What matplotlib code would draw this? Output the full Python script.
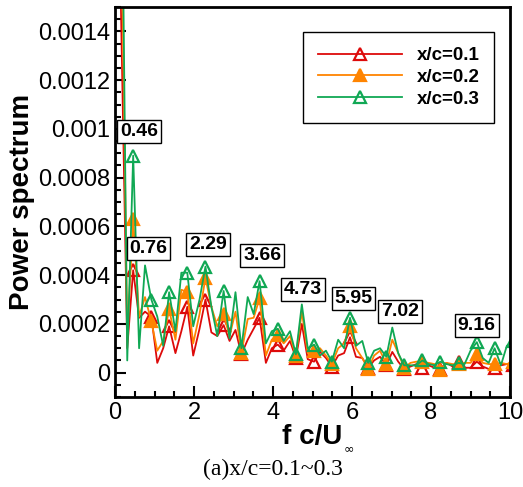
import numpy as np
import matplotlib
matplotlib.use('Agg')
import matplotlib.pyplot as plt
from matplotlib.ticker import MultipleLocator, FuncFormatter

plt.rcParams['font.family'] = ['Liberation Sans', 'DejaVu Sans']

# frequency bins f c/U_inf
freq = [0.15, 0.31, 0.46, 0.61, 0.76, 0.92, 1.07, 1.22, 1.37, 1.53,
        1.68, 1.83, 1.98, 2.14, 2.29, 2.44, 2.59, 2.75, 2.90, 3.05,
        3.20, 3.36, 3.51, 3.66, 3.82, 3.97, 4.12, 4.27, 4.43, 4.58,
        4.73, 4.88, 5.04, 5.19, 5.34, 5.49, 5.65, 5.80, 5.95, 6.10,
        6.26, 6.41, 6.56, 6.71, 6.87, 7.02, 7.17, 7.32, 7.48, 7.63,
        7.78, 7.94, 8.09, 8.24, 8.39, 8.55, 8.70, 8.85, 9.00, 9.16,
        9.31, 9.46, 9.61, 9.77, 9.92, 10.07]

# power spectrum, in units of 1e-4
p_01 = [15, 1.0, 4.2, 2.25, 2.5, 2.3, 0.4, 1.0, 1.9, 0.8,
        1.7, 2.7, 0.7, 1.8, 3.0, 1.65, 1.5, 1.95, 1.3, 1.75,
        0.75, 1.35, 1.8, 2.25, 0.4, 1.0, 1.15, 0.9, 1.3, 0.6,
        2.0, 0.55, 0.45, 0.85, 0.6, 0.25, 0.7, 0.8, 1.45, 0.65,
        0.6, 0.2, 0.5, 0.65, 0.3, 0.85, 0.45, 0.15, 0.25, 0.35,
        0.2, 0.3, 0.2, 0.15, 0.4, 0.25, 0.45, 0.2, 0.2, 0.45,
        0.25, 0.15, 0.2, 0.3, 0.35, 0.3]
p_02 = [20, 1.5, 6.3, 2.3, 3.1, 2.1, 0.9, 1.3, 2.6, 1.35,
        3.4, 3.3, 1.2, 2.4, 3.9, 2.7, 1.9, 2.4, 1.5, 2.5,
        0.8, 2.2, 2.25, 3.05, 0.7, 1.35, 1.55, 1.2, 1.5, 0.7,
        2.5, 0.8, 0.9, 1.0, 0.7, 0.35, 1.0, 1.2, 1.9, 1.0,
        0.6, 0.15, 0.7, 0.9, 0.35, 1.35, 0.8, 0.2, 0.4, 0.45,
        0.45, 0.4, 0.35, 0.1, 0.4, 0.35, 0.35, 0.4, 0.4, 0.75,
        0.4, 0.35, 0.35, 0.4, 0.35, 0.45]
p_03 = [25, 0.5, 8.9, 1.0, 4.4, 3.0, 2.3, 1.1, 3.3, 1.7,
        4.1, 4.1, 1.9, 3.0, 4.35, 2.7, 1.5, 3.35, 1.4, 3.3,
        1.0, 3.1, 2.4, 3.75, 1.2, 1.7, 1.8, 1.3, 1.7, 0.75,
        2.8, 1.0, 1.15, 0.7, 0.9, 0.45, 1.35, 1.0, 2.25, 1.1,
        1.3, 0.4, 0.9, 1.0, 0.65, 1.85, 0.8, 0.3, 0.3, 0.3,
        0.5, 0.35, 0.3, 0.45, 0.35, 0.3, 0.4, 0.35, 0.9, 1.25,
        0.6, 0.4, 1.0, 0.3, 1.1, 1.3]

peak_labels = ['0.46', '0.76', '2.29', '3.66', '4.73', '5.95', '7.02', '9.16']
label_x = [0.61, 0.85, 2.35, 3.73, 4.75, 6.04, 7.22, 9.16]
label_y = [9.9, 5.1, 5.25, 4.8, 3.4, 3.05, 2.5, 1.95]

fig = plt.figure(figsize=(5.23, 4.87), dpi=100)
ax = fig.add_axes([115/523, 1-397/487, 395/523, 390/487])

styles = [
    ('x/c=0.1', p_01, '#dd0a0a', 'none'),
    ('x/c=0.2', p_02, '#ff8400', '#ff8400'),
    ('x/c=0.3', p_03, '#10a854', 'none'),
]
for name, vals, col, face in styles:
    ax.plot(freq, np.array(vals) * 1e-4, color=col, lw=1.3, marker='^',
            markersize=8, markerfacecolor=face, markeredgecolor=col,
            markeredgewidth=1.6, markevery=(2, 3), label=name)

for txt, lx, ly in zip(peak_labels, label_x, label_y):
    ax.text(lx, ly * 1e-4, txt, ha='center', va='center', fontsize=14,
            fontweight='bold',
            bbox=dict(boxstyle='square,pad=0.15', fc='white', ec='black', lw=1))

ax.set_xlim(0, 10)
ax.set_ylim(-0.0001, 0.0015)
ax.xaxis.set_major_locator(MultipleLocator(2))
ax.xaxis.set_minor_locator(MultipleLocator(0.5))
ax.yaxis.set_major_locator(MultipleLocator(0.0002))
ax.yaxis.set_minor_locator(MultipleLocator(0.00005))
ax.yaxis.set_major_formatter(FuncFormatter(lambda v, p: f'{v:g}' if abs(v) > 1e-12 else '0'))
ax.tick_params(which='both', direction='in', labelsize=17, width=1.5,
               top=False, right=False)
ax.tick_params(which='major', length=8)
ax.tick_params(which='minor', length=4)
for s in ax.spines.values():
    s.set_linewidth(2)

ax.set_ylabel('Power spectrum', fontsize=20, fontweight='bold', labelpad=2)
ax.set_xlabel('f c/U', fontsize=20, fontweight='bold', labelpad=0)
fig.text(349/523, 1 - 449/487, '\u221e', fontsize=9, ha='center', va='center',
         family='DejaVu Sans')

leg = ax.legend(loc='upper left', bbox_to_anchor=(303/523, 1 - 32/487),
                bbox_transform=fig.transFigure, borderaxespad=0,
                prop={'weight': 'bold', 'size': 13.5},
                handlelength=4.5, labelspacing=0.25, borderpad=0.8,
                handletextpad=0.75,
                fancybox=False, framealpha=1, edgecolor='black')
leg.get_frame().set_linewidth(1)

fig.text(273/523, 1 - 469/487, '(a)x/c=0.1~0.3', ha='center', va='center',
         fontsize=17, family='Liberation Serif')

fig.savefig('out.png', dpi=100)
